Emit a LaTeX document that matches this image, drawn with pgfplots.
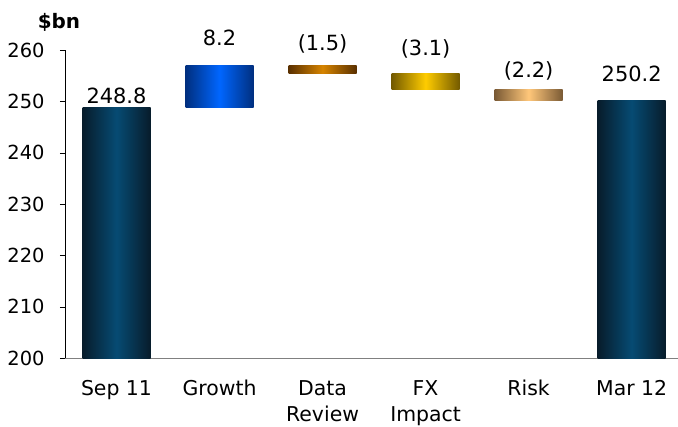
\documentclass[border=0pt]{standalone}
\usepackage{fontspec}
\setmainfont{DejaVu Sans}
\usepackage{pgfplots}
\usepackage{pgfplotstable}
\pgfplotsset{compat=1.18}

% bar shading: dark edges, bright centre
\definecolor{navyEdge}{HTML}{071C2B}
\definecolor{navyMid}{HTML}{064B73}
\definecolor{blueEdge}{HTML}{002F7F}
\definecolor{blueMid}{HTML}{0066FF}
\definecolor{brownEdge}{HTML}{5A3000}
\definecolor{brownMid}{HTML}{D68400}
\definecolor{goldEdge}{HTML}{735A00}
\definecolor{goldMid}{HTML}{FFCC00}
\definecolor{tanEdge}{HTML}{7A5A35}
\definecolor{tanMid}{HTML}{FFC77A}

\tikzset{
  shadebar/.style 2 args={draw=none, mark=none, left color=#1, right color=#1, middle color=#2},
}

% value labels: position (bar top), text, gap above the bar in bp
\pgfplotstableread[col sep=comma]{
x,top,label,gap
0,248.8,248.8,4
1,257.0,8.2,20
2,257.0,(1.5),15
3,255.5,(3.1),18
4,252.4,(2.2),12
5,250.2,250.2,19
}\labels

\begin{document}
\begin{tikzpicture}
\begin{axis}[
  at={(0,0)}, anchor=south west,
  scale only axis, width=613bp, height=308bp,
  xmin=-0.5, xmax=5.45, ymin=200, ymax=260,
  axis x line*=bottom, axis y line*=left,
  x axis line style={-, draw=gray},
  y axis line style={-, draw=black},
  xtick={0,...,5},
  % \strut gives every first line the same height
  xticklabels={\strut Sep 11, \strut Growth, {\strut Data\\Review}, {\strut FX\\Impact}, \strut Risk, \strut Mar 12},
  xtick style={draw=none},
  xticklabel style={align=center, font=\fontsize{20.5}{26}\selectfont, yshift=-11bp},
  ytick={200,210,...,260},
  ytick style={draw=black},
  tick align=outside, major tick length=5bp,
  yticklabel style={font=\fontsize{19.5}{22}\selectfont, xshift=-12bp},
  /pgf/number format/assume math mode=true,
  clip=false,
]
% Sep 11
\addplot[shadebar={navyEdge}{navyMid}] coordinates {(-0.33,200) (0.33,200) (0.33,248.8) (-0.33,248.8)};
% Growth +8.2
\addplot[shadebar={blueEdge}{blueMid}] coordinates {(0.67,248.8) (1.33,248.8) (1.33,257.0) (0.67,257.0)};
% Data Review -1.5
\addplot[shadebar={brownEdge}{brownMid}] coordinates {(1.67,255.5) (2.33,255.5) (2.33,257.0) (1.67,257.0)};
% FX Impact -3.1
\addplot[shadebar={goldEdge}{goldMid}] coordinates {(2.67,252.4) (3.33,252.4) (3.33,255.5) (2.67,255.5)};
% Risk -2.2
\addplot[shadebar={tanEdge}{tanMid}] coordinates {(3.67,250.2) (4.33,250.2) (4.33,252.4) (3.67,252.4)};
% Mar 12
\addplot[shadebar={navyEdge}{navyMid}] coordinates {(4.67,200) (5.33,200) (5.33,250.2) (4.67,250.2)};

% value labels above each bar
\addplot[only marks, mark=none, point meta=explicit symbolic,
  visualization depends on={\thisrow{gap} \as \gap},
  nodes near coords,
  every node near coord/.append style={font=\fontsize{21}{24}\selectfont,
    anchor=base, inner sep=0pt, yshift=\gap bp}]
  table[x=x, y=top, meta=label] {\labels};

\node[font=\bfseries\fontsize{20}{24}\selectfont, anchor=base] at (axis description cs:-0.0098,1.0714) {\$bn};
\end{axis}
\pgfresetboundingbox
\path[use as bounding box] (-65bp,-69bp) rectangle (613bp,358bp);
\end{tikzpicture}
\end{document}
